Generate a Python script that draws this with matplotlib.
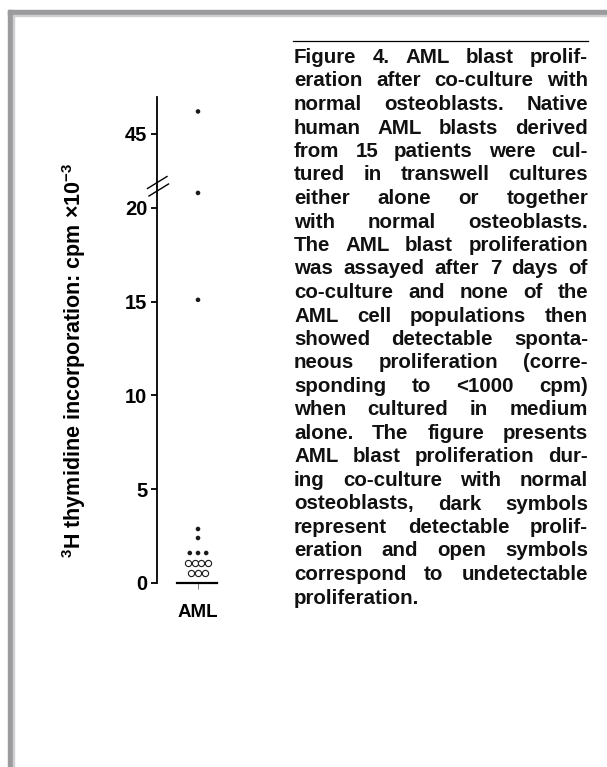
import numpy as np
import matplotlib
matplotlib.use('Agg')
import matplotlib.pyplot as plt
from matplotlib.patches import Rectangle
from matplotlib.lines import Line2D

plt.rcParams['font.family'] = ['Liberation Sans', 'DejaVu Sans']
plt.rcParams['font.weight'] = 'bold'
plt.rcParams['mathtext.fontset'] = 'custom'
plt.rcParams['mathtext.rm'] = 'Liberation Sans:bold'
plt.rcParams['mathtext.default'] = 'rm'

# 3H thymidine incorporation (cpm x 10^-3), one value per patient
dark_vals = [46.2, 20.8, 15.1, 2.88, 2.4, 1.6, 1.6, 1.6]
open_vals = [1.07, 1.07, 1.07, 1.07, 0.53, 0.53, 0.53]
group = 'AML'
lo_ticks = [0, 5, 10, 15, 20]
hi_ticks = [45]
lo_lim = (0, 21.17)
hi_lim = (42.23, 46.97)

ylabel = '$^{3}$H thymidine incorporation: cpm \u00d710$^{-3}$'

caption = [
    'Figure 4. AML blast prolif-',
    'eration after co-culture with',
    'normal osteoblasts. Native',
    'human AML blasts derived',
    'from 15 patients were cul-',
    'tured in transwell cultures',
    'either alone or together',
    'with normal osteoblasts.',
    'The AML blast proliferation',
    'was assayed after 7 days of',
    'co-culture and none of the',
    'AML cell populations then',
    'showed detectable sponta-',
    'neous proliferation (corre-',
    'sponding to <1000 cpm)',
    'when cultured in medium',
    'alone. The figure presents',
    'AML blast proliferation dur-',
    'ing co-culture with normal',
    'osteoblasts, dark symbols',
    'represent detectable prolif-',
    'eration and open symbols',
    'correspond to undetectable',
    'proliferation.',
]

W, H = 607, 767
fig = plt.figure(figsize=(W / 100, H / 100), dpi=100)


def fx(px):
    return px / W


def fy(py):
    return 1 - py / H


def swarm(vals, step):
    # spread tied values side by side around the category centre
    vals = np.asarray(vals)
    offs = np.zeros(len(vals))
    for v in np.unique(vals):
        idx = np.where(vals == v)[0]
        offs[idx] = (np.arange(len(idx)) - (len(idx) - 1) / 2) * step
    return offs


# page frame (top and left edges)
fig.patches.append(Rectangle((fx(8), fy(15)), 1, 5 / H, transform=fig.transFigure,
                             color='#9b9b9d', zorder=0))
fig.patches.append(Rectangle((fx(8), 0), 5 / W, fy(10), transform=fig.transFigure,
                             color='#9b9b9d', zorder=0))
fig.patches.append(Rectangle((fx(13), fy(16)), 1, 1 / H, transform=fig.transFigure,
                             color='#cfcfd1', zorder=0))
fig.patches.append(Rectangle((fx(13), 0), 1 / W, fy(16), transform=fig.transFigure,
                             color='#cfcfd1', zorder=0))

left, right = 157, 239
ax_lo = fig.add_axes([fx(left), fy(583), (right - left) / W, (583 - 186) / H])
ax_hi = fig.add_axes([fx(left), fy(186), (right - left) / W, (186 - 97) / H])

dx_dark = swarm(dark_vals, 0.1)
dx_open = swarm(open_vals, 0.08)
for ax in (ax_lo, ax_hi):
    ax.scatter(dx_dark, dark_vals, s=11, color='#1a1a1a', edgecolors='none', zorder=3)
    ax.scatter(dx_open, open_vals, s=20, facecolors='white', edgecolors='#1a1a1a',
               linewidths=0.8, zorder=3)
    ax.set_xlim(-0.5, 0.5)
    ax.spines['top'].set_visible(False)
    ax.spines['right'].set_visible(False)
    ax.spines['left'].set_linewidth(1.3)
    ax.tick_params(axis='y', length=4, width=1.3, pad=3, labelsize=14.5)
    for lab in ax.get_yticklabels():
        lab.set_fontweight('bold')

ax_lo.set_ylim(*lo_lim)
ax_lo.set_yticks(lo_ticks)
ax_lo.set_xticks([0])
ax_lo.set_xticklabels([group], fontsize=13.5, fontweight='bold')
ax_lo.tick_params(axis='x', length=4, width=0.6, color='#666666', pad=11)
ax_lo.spines['bottom'].set_bounds(-0.26, 0.23)
ax_lo.spines['bottom'].set_linewidth(1.6)

ax_hi.set_ylim(*hi_lim)
ax_hi.set_yticks(hi_ticks)
ax_hi.set_xticks([])
ax_hi.spines['bottom'].set_visible(False)

# axis break marks
for (x0, y0, x1, y1) in [(147.5, 188.5, 167, 176.5), (149, 196, 168.5, 184)]:
    fig.lines.append(Line2D([fx(x0), fx(x1)], [fy(y0), fy(y1)], transform=fig.transFigure,
                            color='black', lw=1.0))

fig.text(fx(74.5), fy(360), ylabel, rotation=90, ha='center', va='center',
         fontsize=15.5, fontweight='bold')

# caption block, justified between cap_l and cap_r
cap_l, cap_r = 294, 588
base0, lead = 63, 23.5
fig.lines.append(Line2D([fx(cap_l - 1), fx(cap_r)], [fy(41), fy(41)],
                        transform=fig.transFigure, color='black', lw=0.9))
renderer = fig.canvas.get_renderer()
for i, line in enumerate(caption):
    words = line.split(' ')
    y = fy(base0 + i * lead)
    texts = [fig.text(0, y, w, fontsize=14.8, fontweight='bold', va='baseline', color='#111111')
             for w in words]
    widths = [t.get_window_extent(renderer).width for t in texts]
    if i == len(caption) - 1 or len(words) == 1:
        gap = 5
    else:
        gap = (cap_r - cap_l - sum(widths)) / (len(words) - 1)
    x = cap_l
    for t, w in zip(texts, widths):
        t.set_x(fx(x))
        x += w + gap

fig.savefig('out.png', dpi=100, facecolor='white')
